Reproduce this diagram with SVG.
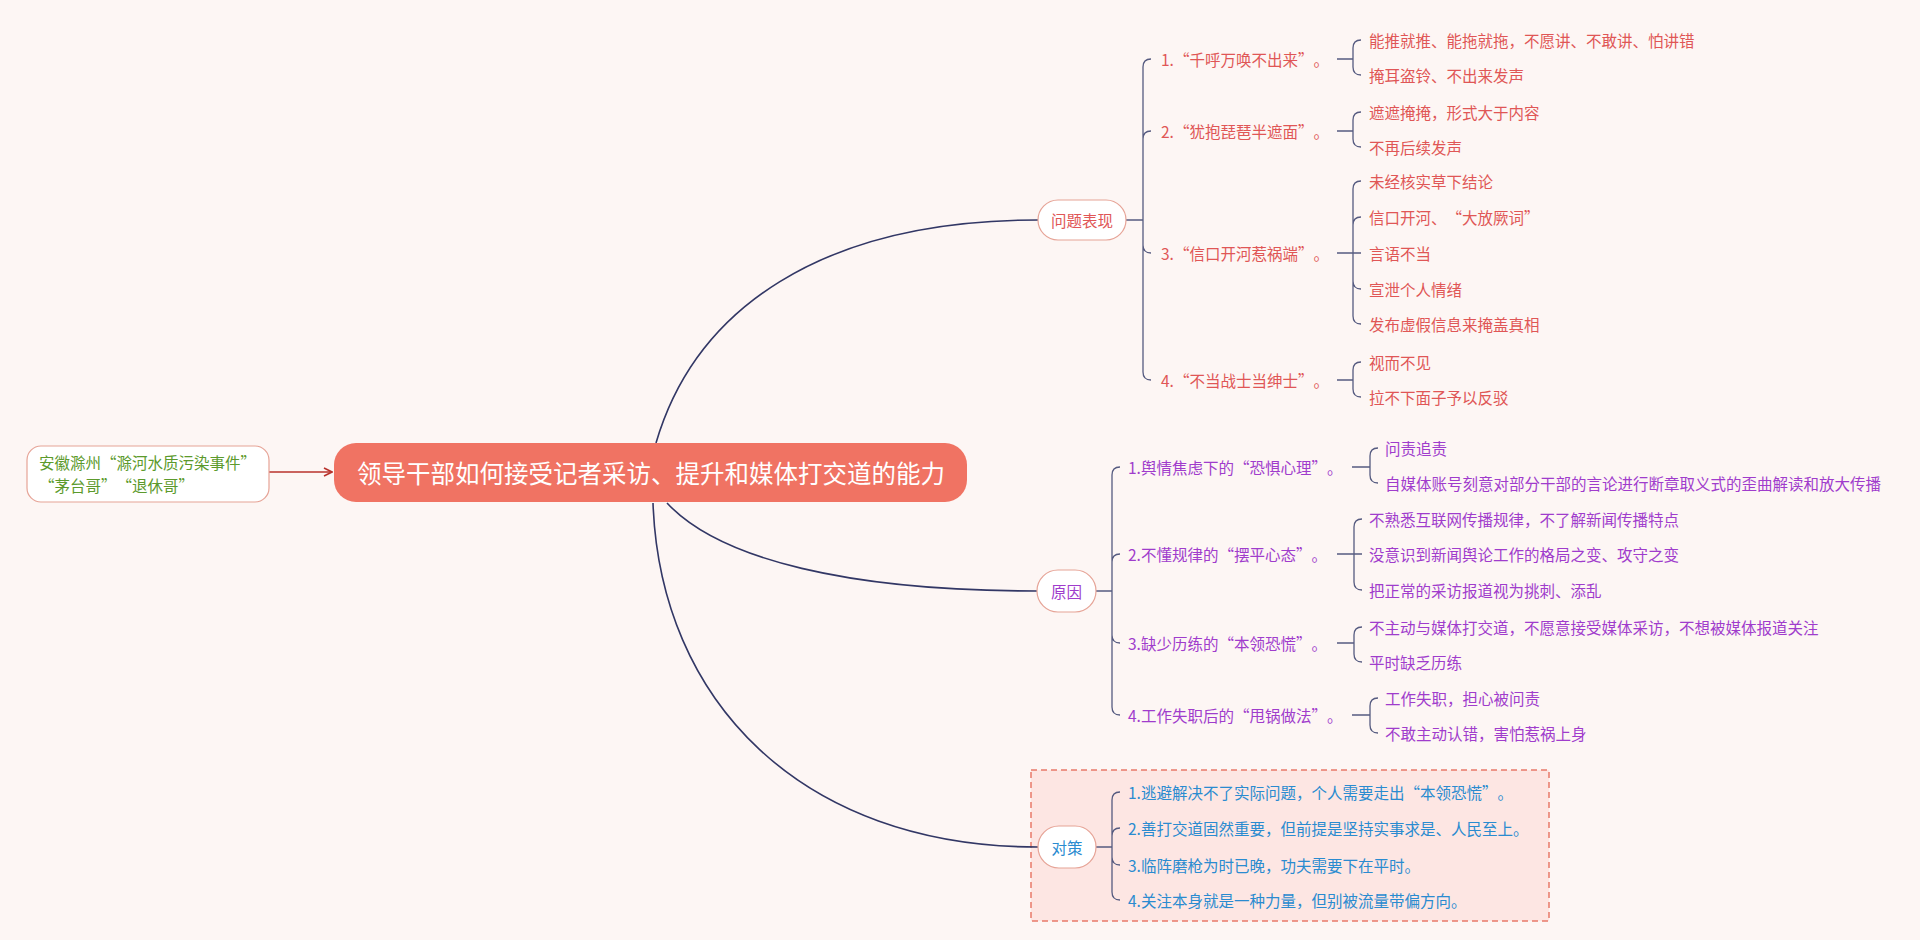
<svg xmlns="http://www.w3.org/2000/svg" width="1920" height="940" viewBox="0 0 1920 940">
<defs>
<marker id="arr" viewBox="0 0 10 10" refX="9" refY="5" markerWidth="10" markerHeight="10" markerUnits="userSpaceOnUse" orient="auto"><path d="M1,1 L9,5 L1,9" fill="none" stroke="#b8322c" stroke-width="1.6"/></marker>
<style>
text{font-family:"Noto Sans CJK SC","Noto Sans",sans-serif;dominant-baseline:central;text-spacing-trim:space-all}
.c{fill:none;stroke:#323765;stroke-width:1.6}
.b{fill:none;stroke:#565b80;stroke-width:1.3}
.red{fill:#e05656;font-size:15.5px}
.pur{fill:#a03ccc;font-size:15.5px}
.blu{fill:#2a8bd0;font-size:15.5px}
.pill{fill:#fff;stroke:#e6a396;stroke-width:1.2}
.mid{text-anchor:middle}
</style>
</defs>
<rect x="0" y="0" width="1920" height="940" fill="#fdf6f4"/>
<rect id="boundary" x="1031" y="770" width="518" height="151" fill="#fde6e3" stroke="#e77a6a" stroke-width="1.5" stroke-dasharray="6 4"/>
<g id="connectors">
<path class="c" d="M656,443 C695,310 820,220 1038,220"/>
<path class="c" d="M667,503 C720,560 850,591 1037,591"/>
<path class="c" d="M653,503 C660,700 800,847 1038,847"/>
<path d="M269,472 L332,472" fill="none" stroke="#b8322c" stroke-width="1.6" marker-end="url(#arr)"/>
<path class="b" d="M1126,220 H1143 V67 Q1143,59 1151,59 M1143,220 V139 Q1143,131 1151,131 M1143,220 V245 Q1143,253 1151,253 M1143,220 V372 Q1143,380 1151,380"/>
<path class="b" d="M1337,59 H1353 V48 Q1353,40 1361,40 M1353,59 V67 Q1353,75 1361,75"/>
<path class="b" d="M1337,131 H1353 V120 Q1353,112 1361,112 M1353,131 V139 Q1353,147 1361,147"/>
<path class="b" d="M1337,253 H1361 M1353,253 V189 Q1353,181 1361,181 M1353,253 V225 Q1353,217 1361,217 M1353,253 V281 Q1353,289 1361,289 M1353,253 V316 Q1353,324 1361,324"/>
<path class="b" d="M1337,380 H1353 V370 Q1353,362 1361,362 M1353,380 V389 Q1353,397 1361,397"/>
<path class="b" d="M1096,591 H1112 V475 Q1112,467 1120,467 M1112,591 V562 Q1112,554 1120,554 M1112,591 V635 Q1112,643 1120,643 M1112,591 V707 Q1112,715 1120,715"/>
<path class="b" d="M1352,467 H1370 V456 Q1370,448 1378,448 M1370,467 V475 Q1370,483 1378,483"/>
<path class="b" d="M1337,554 H1362 M1354,554 V527 Q1354,519 1362,519 M1354,554 V582 Q1354,590 1362,590"/>
<path class="b" d="M1337,643 H1354 V635 Q1354,627 1362,627 M1354,643 V654 Q1354,662 1362,662"/>
<path class="b" d="M1352,715 H1370 V706 Q1370,698 1378,698 M1370,715 V725 Q1370,733 1378,733"/>
<path class="b" d="M1096,847 H1112 V800 Q1112,792 1120,792 M1112,847 V836 Q1112,828 1120,828 M1112,847 V857 Q1112,865 1120,865 M1112,847 V892 Q1112,900 1120,900"/>
</g>
<g id="source">
<rect x="27" y="446" width="242" height="56" rx="14" class="pill"/>
<text x="39" y="462" fill="#5c9a2c" font-size="15.5">安徽滁州“滁河水质污染事件”</text>
<text x="39" y="485" fill="#5c9a2c" font-size="15.5">“茅台哥”“退休哥”</text>
</g>
<g id="root">
<rect x="334" y="443" width="633" height="59" rx="22" fill="#f07363"/>
<text x="651" y="472" class="mid" fill="#fff" font-size="24.5">领导干部如何接受记者采访、提升和媒体打交道的能力</text>
</g>
<g id="n-problem">
<rect x="1038" y="200" width="88" height="40" rx="20" class="pill"/>
<text x="1082" y="220" class="red mid">问题表现</text>
</g>
<g id="n-p1"><text x="1161" y="59" class="red">1.“千呼万唤不出来”。</text></g>
<g id="n-p1a"><text x="1369" y="40" class="red">能推就推、能拖就拖，不愿讲、不敢讲、怕讲错</text></g>
<g id="n-p1b"><text x="1369" y="75" class="red">掩耳盗铃、不出来发声</text></g>
<g id="n-p2"><text x="1161" y="131" class="red">2.“犹抱琵琶半遮面”。</text></g>
<g id="n-p2a"><text x="1369" y="112" class="red">遮遮掩掩，形式大于内容</text></g>
<g id="n-p2b"><text x="1369" y="147" class="red">不再后续发声</text></g>
<g id="n-p3"><text x="1161" y="253" class="red">3.“信口开河惹祸端”。</text></g>
<g id="n-p3a"><text x="1369" y="181" class="red">未经核实草下结论</text></g>
<g id="n-p3b"><text x="1369" y="217" class="red">信口开河、“大放厥词”</text></g>
<g id="n-p3c"><text x="1369" y="253" class="red">言语不当</text></g>
<g id="n-p3d"><text x="1369" y="289" class="red">宣泄个人情绪</text></g>
<g id="n-p3e"><text x="1369" y="324" class="red">发布虚假信息来掩盖真相</text></g>
<g id="n-p4"><text x="1161" y="380" class="red">4.“不当战士当绅士”。</text></g>
<g id="n-p4a"><text x="1369" y="362" class="red">视而不见</text></g>
<g id="n-p4b"><text x="1369" y="397" class="red">拉不下面子予以反驳</text></g>
<g id="n-cause">
<rect x="1037" y="570" width="59" height="42" rx="21" class="pill"/>
<text x="1066.5" y="591" class="pur mid">原因</text>
</g>
<g id="n-c1"><text x="1128" y="467" class="pur">1.舆情焦虑下的“恐惧心理”。</text></g>
<g id="n-c1a"><text x="1385" y="448" class="pur">问责追责</text></g>
<g id="n-c1b"><text x="1385" y="483" class="pur">自媒体账号刻意对部分干部的言论进行断章取义式的歪曲解读和放大传播</text></g>
<g id="n-c2"><text x="1128" y="554" class="pur">2.不懂规律的“摆平心态”。</text></g>
<g id="n-c2a"><text x="1369" y="519" class="pur">不熟悉互联网传播规律，不了解新闻传播特点</text></g>
<g id="n-c2b"><text x="1369" y="554" class="pur">没意识到新闻舆论工作的格局之变、攻守之变</text></g>
<g id="n-c2c"><text x="1369" y="590" class="pur">把正常的采访报道视为挑刺、添乱</text></g>
<g id="n-c3"><text x="1128" y="643" class="pur">3.缺少历练的“本领恐慌”。</text></g>
<g id="n-c3a"><text x="1369" y="627" class="pur">不主动与媒体打交道，不愿意接受媒体采访，不想被媒体报道关注</text></g>
<g id="n-c3b"><text x="1369" y="662" class="pur">平时缺乏历练</text></g>
<g id="n-c4"><text x="1128" y="715" class="pur">4.工作失职后的“甩锅做法”。</text></g>
<g id="n-c4a"><text x="1385" y="698" class="pur">工作失职，担心被问责</text></g>
<g id="n-c4b"><text x="1385" y="733" class="pur">不敢主动认错，害怕惹祸上身</text></g>
<g id="n-measure">
<rect x="1038" y="826" width="58" height="42" rx="21" class="pill"/>
<text x="1067" y="847" class="blu mid">对策</text>
</g>
<g id="n-m1"><text x="1128" y="792" class="blu">1.逃避解决不了实际问题，个人需要走出“本领恐慌”。</text></g>
<g id="n-m2"><text x="1128" y="828" class="blu">2.善打交道固然重要，但前提是坚持实事求是、人民至上。</text></g>
<g id="n-m3"><text x="1128" y="865" class="blu">3.临阵磨枪为时已晚，功夫需要下在平时。</text></g>
<g id="n-m4"><text x="1128" y="900" class="blu">4.关注本身就是一种力量，但别被流量带偏方向。</text></g>
</svg>
